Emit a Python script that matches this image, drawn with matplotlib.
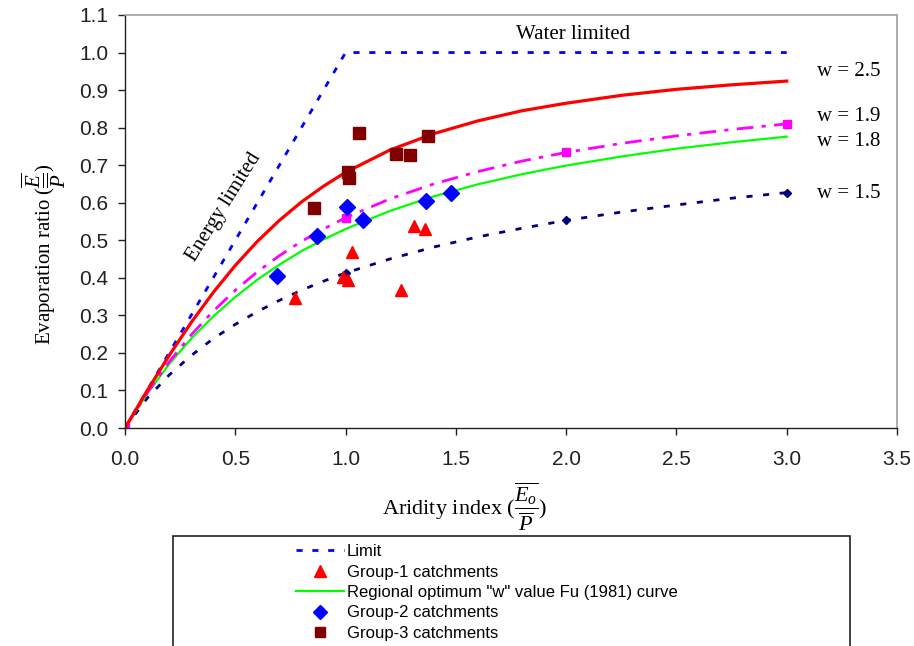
import matplotlib.pyplot as plt
from matplotlib.patches import Rectangle
from matplotlib.lines import Line2D

plt.rcParams['font.family'] = ['Liberation Sans', 'DejaVu Sans']
plt.rcParams['mathtext.fontset'] = 'custom'
plt.rcParams['mathtext.rm'] = 'Liberation Serif'
plt.rcParams['mathtext.it'] = 'Liberation Serif:italic'

# Fu (1981) curves
aridity = [0.0, 0.1, 0.2, 0.3, 0.4, 0.5, 0.6, 0.7, 0.8, 0.9, 1.0,
           1.2, 1.4, 1.6, 1.8, 2.0, 2.25, 2.5, 2.75, 3.0]
w25 = [0.0, 0.099, 0.193, 0.281, 0.361, 0.433, 0.497, 0.553, 0.602, 0.644, 0.681,
       0.740, 0.784, 0.818, 0.845, 0.865, 0.886, 0.902, 0.914, 0.924]
w19 = [0.0, 0.093, 0.176, 0.248, 0.311, 0.367, 0.416, 0.459, 0.497, 0.530, 0.560,
       0.610, 0.650, 0.683, 0.711, 0.734, 0.758, 0.778, 0.795, 0.810]
w18 = [0.0, 0.091, 0.170, 0.238, 0.297, 0.349, 0.395, 0.435, 0.471, 0.502, 0.530,
       0.578, 0.617, 0.649, 0.676, 0.699, 0.723, 0.744, 0.761, 0.776]
w15 = [0.0, 0.079, 0.141, 0.193, 0.238, 0.276, 0.310, 0.340, 0.367, 0.391, 0.413,
       0.450, 0.482, 0.509, 0.532, 0.553, 0.575, 0.594, 0.612, 0.627]
marks_at = [0, 10, 15, 19]

limit_x = [0.0, 1.0, 3.0]
limit_y = [0.0, 1.0, 1.0]

g1_x = [0.77, 0.99, 1.01, 1.03, 1.25, 1.31, 1.36]
g1_y = [0.346, 0.402, 0.395, 0.470, 0.368, 0.539, 0.530]
g2_x = [0.69, 0.87, 1.005, 1.08, 1.365, 1.478]
g2_y = [0.405, 0.512, 0.588, 0.555, 0.605, 0.627]
g3_x = [0.858, 1.012, 1.017, 1.062, 1.227, 1.292, 1.375]
g3_y = [0.587, 0.681, 0.666, 0.786, 0.731, 0.728, 0.779]

fig = plt.figure(figsize=(9.14, 6.46), dpi=100)
ax = fig.add_axes([125/914, 1-428/646, 772/914, 413/646])

ax.plot(limit_x, limit_y, color='#0000ff', lw=2, linestyle=(0, (2.2, 3.5)), label='Limit')
ax.plot(aridity, w15, color='#000080', lw=2, linestyle=(0, (2.2, 3.8)),
        marker='D', ms=4, markevery=marks_at)
ax.plot(aridity, w18, color='#00ff00', lw=1.6,
        label='Regional optimum "w" value Fu (1981) curve')
ax.plot(aridity, w19, color='#ff00ff', lw=2, linestyle=(0, (6, 3, 1.5, 3)),
        marker='s', ms=6, markevery=marks_at)
ax.plot(aridity, w25, color='#ff0000', lw=2.3)

ax.plot(g1_x, g1_y, '^', color='#ff0000', ms=9, ls='none', label='Group-1 catchments')
ax.plot(g2_x, g2_y, 'D', color='#0000ff', ms=8, ls='none', label='Group-2 catchments')
ax.plot(g3_x, g3_y, 's', color='#800000', ms=8, ls='none', label='Group-3 catchments')

ax.set_xlim(0, 3.5)
ax.set_ylim(0, 1.1)
ax.set_xticks([0.0, 0.5, 1.0, 1.5, 2.0, 2.5, 3.0, 3.5])
ax.set_yticks([i / 10 for i in range(12)])
ax.set_xticklabels(['%.1f' % v for v in ax.get_xticks()])
ax.set_yticklabels(['%.1f' % v for v in ax.get_yticks()])
ax.tick_params(direction='out', length=5, width=1, labelsize=15, colors='#222222')
ax.tick_params(axis='x', pad=11)
ax.tick_params(axis='y', pad=7)
for s in ['left', 'bottom']:
    ax.spines[s].set_color('#222222')
    ax.spines[s].set_linewidth(1)
for s in ['top', 'right']:
    ax.spines[s].set_color('#a0a0a0')
    ax.spines[s].set_linewidth(1.2)

serif = 'Liberation Serif'
ax.set_xlabel(r'Aridity index $(\dfrac{\overline{E_o}}{\overline{P}})$', family=serif,
              fontsize=16, va='center')
ax.xaxis.set_label_coords(0.44, -0.19)
ax.set_ylabel(r'Evaporation ratio $(\dfrac{\overline{E}}{\overline{P}})$', family=serif,
              fontsize=15, va='center')
ax.yaxis.set_label_coords(-0.104, 0.42)

ax.text(2.03, 1.048, 'Water limited', family=serif, fontsize=15, ha='center', va='center')
ax.text(0.45, 0.589, 'Energy limited', family=serif, fontsize=15, ha='center', va='center',
        rotation=58)
for lab, yy in [('w = 2.5', 0.949), ('w = 1.9', 0.829), ('w = 1.8', 0.762), ('w = 1.5', 0.624)]:
    ax.text(3.28, yy, lab, family=serif, fontsize=15, ha='center', va='center')

# legend box
fig.patches.append(Rectangle((173/914, -0.05), (850-173)/914, 0.05 + 1-536/646,
                             transform=fig.transFigure, fill=False, ec='#222222', lw=1.2))
handles = [
    Line2D([], [], color='#0000ff', lw=2, linestyle=(0, (2.2, 3.5))),
    Line2D([], [], color='#ff0000', marker='^', ms=9, ls='none'),
    Line2D([], [], color='#00ff00', lw=1.6),
    Line2D([], [], color='#0000ff', marker='D', ms=7, ls='none'),
    Line2D([], [], color='#800000', marker='s', ms=7, ls='none'),
]
labels = ['Limit', 'Group-1 catchments', 'Regional optimum "w" value Fu (1981) curve',
          'Group-2 catchments', 'Group-3 catchments']
fig.legend(handles, labels, loc='upper left', bbox_to_anchor=(296/914, 1-544/646),
           frameon=False, fontsize=12, handlelength=2.9, handletextpad=0.15,
           labelspacing=0.33, borderpad=0, borderaxespad=0)

fig.savefig('out.png', dpi=100)
